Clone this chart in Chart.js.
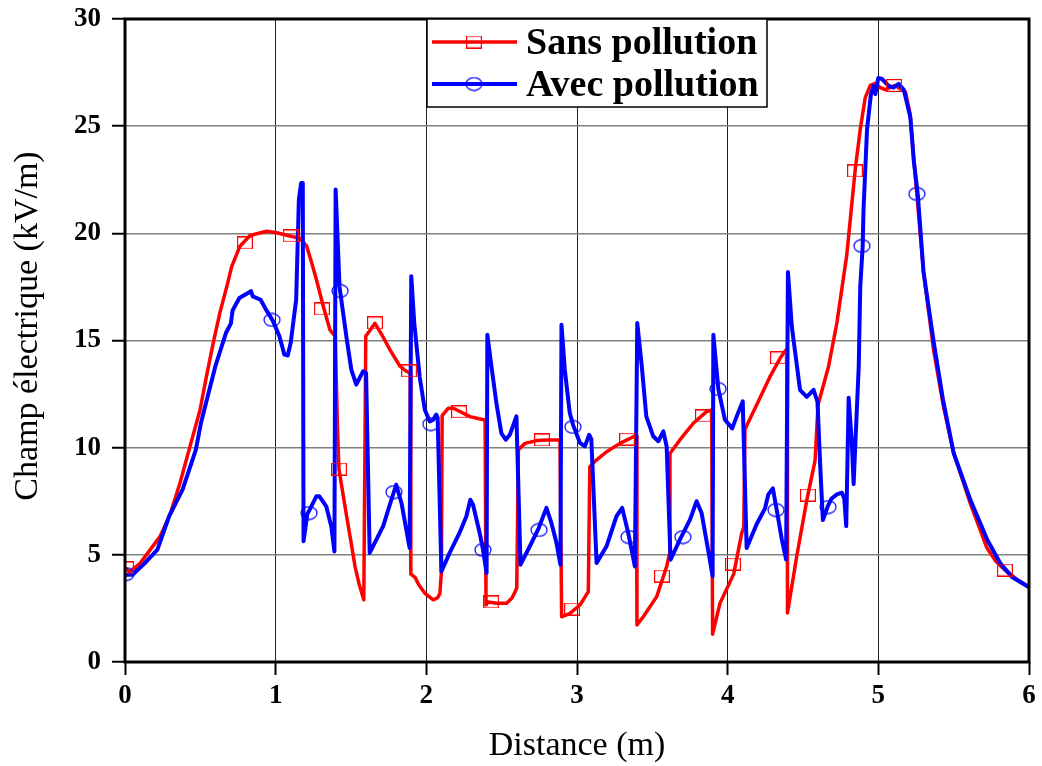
<!DOCTYPE html>
<html lang="fr">
<head>
    <meta charset="UTF-8">
    <title>Champ électrique</title>
    <script src="https://cdn.jsdelivr.net/npm/chart.js@4"></script>
    <style>
        body { margin: 0; padding: 0; background: #fff; }
        #wrap { width: 1042px; height: 766px; }
    </style>
</head>
<body>
    <div id="wrap"><canvas id="champChart" width="1042" height="766"></canvas></div>
    <script>
        // Sans pollution: distance (m) / champ (kV/m)
        const sansX = [0, 0.03, 0.1, 0.232, 0.3, 0.365, 0.431, 0.498, 0.54, 0.586, 0.63, 0.675, 0.708, 0.763, 0.83, 0.94, 1.007, 1.08, 1.16, 1.206, 1.24, 1.272, 1.316, 1.36, 1.382, 1.395, 1.41, 1.42, 1.45, 1.471, 1.5, 1.527, 1.555, 1.585, 1.598, 1.659, 1.71, 1.759, 1.825, 1.86, 1.893, 1.897, 1.925, 1.95, 1.991, 2.046, 2.075, 2.09, 2.1, 2.105, 2.146, 2.179, 2.219, 2.29, 2.35, 2.39, 2.396, 2.41, 2.467, 2.533, 2.57, 2.6, 2.611, 2.655, 2.732, 2.8, 2.887, 2.898, 2.953, 3.02, 3.075, 3.085, 3.13, 3.197, 3.285, 3.374, 3.393, 3.398, 3.44, 3.529, 3.595, 3.612, 3.617, 3.683, 3.772, 3.86, 3.894, 3.9, 3.949, 4.04, 4.093, 4.107, 4.115, 4.215, 4.28, 4.348, 4.38, 4.395, 4.397, 4.459, 4.525, 4.58, 4.6, 4.67, 4.725, 4.79, 4.847, 4.88, 4.913, 4.947, 4.98, 5.013, 5.047, 5.11, 5.18, 5.21, 5.246, 5.3, 5.368, 5.43, 5.5, 5.612, 5.72, 5.78, 5.845, 5.92, 6.0];
        const sansY = [4.4, 4.2, 4.6, 5.85, 6.9, 8.35, 10.05, 11.76, 13.3, 14.9, 16.3, 17.5, 18.45, 19.4, 19.9, 20.1, 20.03, 19.9, 19.77, 19.4, 18.6, 17.8, 16.6, 15.5, 15.3, 15.3, 11.0, 9.0, 7.7, 6.8, 5.6, 4.45, 3.6, 2.9, 15.2, 15.8, 15.2, 14.56, 13.8, 13.6, 13.47, 4.1, 3.95, 3.6, 3.2, 2.9, 3.0, 3.2, 4.2, 11.5, 11.84, 11.84, 11.7, 11.45, 11.35, 11.29, 2.66, 2.8, 2.74, 2.74, 3.0, 3.44, 9.9, 10.2, 10.33, 10.36, 10.36, 2.11, 2.27, 2.66, 3.28, 9.11, 9.43, 9.81, 10.2, 10.51, 10.55, 1.73, 2.11, 3.05, 4.45, 5.0, 9.73, 10.36, 11.14, 11.68, 11.76, 1.3, 2.74, 4.1, 6.0, 6.3, 10.86, 12.33, 13.3, 14.17, 14.5, 14.6, 2.29, 4.96, 7.54, 9.4, 12.0, 13.8, 15.83, 18.96, 23.0, 24.85, 26.33, 26.9, 27.0, 26.8, 26.7, 26.9, 26.6, 25.6, 22.6, 18.2, 14.5, 12.0, 9.75, 7.36, 5.33, 4.7, 4.26, 3.85, 3.5];

        // Avec pollution
        const avecX = [0, 0.05, 0.13, 0.215, 0.293, 0.382, 0.47, 0.504, 0.56, 0.6, 0.67, 0.703, 0.714, 0.759, 0.836, 0.848, 0.9, 0.936, 0.98, 1.025, 1.058, 1.08, 1.1, 1.136, 1.154, 1.169, 1.18, 1.185, 1.21, 1.225, 1.27, 1.29, 1.336, 1.369, 1.39, 1.398, 1.424, 1.469, 1.502, 1.535, 1.58, 1.6, 1.624, 1.713, 1.768, 1.8, 1.835, 1.889, 1.9, 1.92, 1.956, 1.99, 2.022, 2.045, 2.066, 2.075, 2.1, 2.155, 2.22, 2.266, 2.292, 2.31, 2.354, 2.376, 2.4, 2.405, 2.432, 2.465, 2.498, 2.527, 2.554, 2.598, 2.625, 2.687, 2.746, 2.797, 2.83, 2.864, 2.89, 2.897, 2.919, 2.952, 2.975, 3.02, 3.052, 3.081, 3.095, 3.13, 3.196, 3.262, 3.3, 3.34, 3.384, 3.4, 3.43, 3.46, 3.506, 3.54, 3.573, 3.595, 3.621, 3.683, 3.75, 3.794, 3.827, 3.87, 3.9, 3.905, 3.938, 3.982, 4.03, 4.06, 4.1, 4.126, 4.193, 4.248, 4.27, 4.3, 4.326, 4.36, 4.388, 4.4, 4.426, 4.46, 4.48, 4.525, 4.57, 4.596, 4.614, 4.632, 4.665, 4.69, 4.725, 4.758, 4.774, 4.787, 4.803, 4.825, 4.836, 4.847, 4.87, 4.88, 4.896, 4.902, 4.925, 4.951, 4.969, 4.98, 5.0, 5.024, 5.069, 5.1, 5.135, 5.169, 5.213, 5.235, 5.262, 5.3, 5.368, 5.43, 5.5, 5.612, 5.723, 5.81, 5.89, 6.0];
        const avecY = [4.07, 4.07, 4.6, 5.24, 6.8, 8.04, 9.9, 11.15, 12.7, 13.8, 15.35, 15.8, 16.4, 16.98, 17.3, 17.06, 16.9, 16.44, 15.94, 15.2, 14.34, 14.3, 14.9, 16.9, 21.57, 22.35, 22.35, 5.63, 6.9, 7.1, 7.73, 7.73, 7.26, 6.33, 5.16, 22.04, 17.5, 15.2, 13.64, 12.94, 13.56, 13.48, 5.09, 6.33, 7.57, 8.27, 7.42, 5.32, 18.0, 15.8, 13.3, 11.77, 11.23, 11.3, 11.54, 11.4, 4.23, 5.09, 6.02, 6.8, 7.57, 7.34, 6.02, 5.24, 4.15, 15.27, 13.8, 12.08, 10.68, 10.37, 10.6, 11.46, 4.54, 5.4, 6.25, 7.19, 6.49, 5.55, 4.54, 15.74, 13.64, 11.62, 11.04, 10.22, 10.06, 10.6, 10.4, 4.62, 5.4, 6.8, 7.19, 6.02, 4.46, 15.82, 13.8, 11.46, 10.53, 10.3, 10.76, 10.06, 4.77, 5.71, 6.64, 7.5, 6.95, 5.24, 4.0, 15.27, 12.74, 11.3, 10.9, 11.46, 12.16, 5.32, 6.44, 7.17, 7.82, 8.1, 7.08, 5.7, 4.78, 18.2, 15.64, 13.8, 12.7, 12.37, 12.7, 12.15, 9.2, 6.62, 7.27, 7.63, 7.82, 7.9, 7.63, 6.34, 12.33, 10.12, 8.3, 10.12, 13.8, 17.5, 19.38, 21.17, 24.85, 26.5, 26.88, 26.5, 27.25, 27.2, 26.88, 26.8, 26.97, 26.7, 25.4, 23.4, 21.8, 18.2, 14.9, 12.2, 9.75, 7.54, 5.7, 4.6, 3.95, 3.49];

        // marker positions along each curve
        const sansMarkX = [0.007, 0.796, 1.10, 1.307, 1.42, 1.659, 1.885, 2.217, 2.43, 2.768, 2.967, 3.332, 3.564, 3.836, 4.035, 4.334, 4.533, 4.845, 5.104, 5.84];
        const sansMarkY = [4.39, 19.55, 19.88, 16.47, 9.0, 15.82, 13.58, 11.67, 2.8, 10.36, 2.47, 10.4, 4.01, 11.48, 4.57, 14.19, 7.79, 22.91, 26.9, 4.29];
        const avecMarkX = [0.007, 0.976, 1.221, 1.427, 1.785, 2.03, 2.376, 2.748, 2.973, 3.345, 3.703, 3.936, 4.321, 4.666, 4.891, 5.256];
        const avecMarkY = [4.1, 15.96, 6.95, 17.31, 7.93, 11.1, 5.23, 6.16, 10.97, 5.83, 5.83, 12.74, 7.09, 7.23, 19.41, 21.84];

        const xTicks = [0, 1, 2, 3, 4, 5, 6];
        const yTicks = [0, 5, 10, 15, 20, 25, 30];
        const seriesNames = ['Sans pollution', 'Avec pollution'];

        const RED = '#ff0000';
        const BLUE = '#0000ff';
        const SERIF = "'Liberation Serif', 'Times New Roman', serif";

        function pts(xs, ys) {
            return xs.map((x, i) => ({ x: x, y: ys[i] }));
        }

        // hollow marker images
        function squareMarker() {
            const c = document.createElement('canvas');
            c.width = 16; c.height = 13;
            const g = c.getContext('2d');
            g.strokeStyle = RED; g.lineWidth = 1.2;
            g.strokeRect(0.6, 0.6, 14.8, 11.8);
            return c;
        }
        function circleMarker() {
            const c = document.createElement('canvas');
            c.width = 18; c.height = 15;
            const g = c.getContext('2d');
            g.strokeStyle = BLUE; g.lineWidth = 1.2;
            g.beginPath();
            g.ellipse(9, 7.5, 8, 6.4, 0, 0, Math.PI * 2);
            g.stroke();
            return c;
        }
        const sq = squareMarker();
        const ci = circleMarker();

        // frame, y title and legend box
        const decor = {
            id: 'decor',
            afterDatasetsDraw(chart) {
                const ctx = chart.ctx;
                const a = chart.chartArea;
                ctx.save();
                ctx.strokeStyle = '#000';
                ctx.lineWidth = 3;
                ctx.strokeRect(a.left, a.top, a.right - a.left, a.bottom - a.top);

                // legend
                const bx = 427, by = a.top, bw = 340, bh = 88;
                ctx.fillStyle = '#fff';
                ctx.fillRect(bx, by, bw, bh);
                ctx.lineWidth = 1.5;
                ctx.strokeRect(bx, by, bw, bh);
                const rows = [
                    { y: 42, color: RED, img: sq, w: 3.5 },
                    { y: 84, color: BLUE, img: ci, w: 4 }
                ];
                ctx.font = 'bold 38px ' + SERIF;
                ctx.textBaseline = 'alphabetic';
                ctx.textAlign = 'left';
                rows.forEach((r, i) => {
                    ctx.strokeStyle = r.color;
                    ctx.lineWidth = r.w;
                    ctx.beginPath();
                    ctx.moveTo(432, r.y);
                    ctx.lineTo(517, r.y);
                    ctx.stroke();
                    ctx.drawImage(r.img, 474 - r.img.width / 2, r.y - r.img.height / 2);
                    ctx.fillStyle = '#000';
                    ctx.fillText(seriesNames[i], 526, r.y + 12);
                });

                // y axis title
                ctx.translate(28, 326);
                ctx.rotate(-Math.PI / 2);
                ctx.font = '34px ' + SERIF;
                ctx.textAlign = 'center';
                ctx.textBaseline = 'middle';
                ctx.fillStyle = '#000';
                ctx.fillText('Champ électrique (kV/m)', 0, 0);
                ctx.restore();
            }
        };

        function noPad(s) {
            s.paddingTop = 0; s.paddingBottom = 0;
            s.paddingLeft = 0; s.paddingRight = 0;
        }

        const ctx = document.getElementById('champChart').getContext('2d');
        new Chart(ctx, {
            type: 'line',
            data: {
                datasets: [
                    {
                        label: seriesNames[0] + ' marqueurs',
                        data: pts(sansMarkX, sansMarkY),
                        showLine: false,
                        pointStyle: sq,
                        pointRadius: 8,
                        order: 0
                    },
                    {
                        label: seriesNames[1] + ' marqueurs',
                        data: pts(avecMarkX, avecMarkY),
                        showLine: false,
                        pointStyle: ci,
                        pointRadius: 8,
                        order: 0
                    },
                    {
                        label: seriesNames[1],
                        data: pts(avecX, avecY),
                        borderColor: BLUE,
                        borderWidth: 4,
                        pointRadius: 0,
                        tension: 0,
                        borderJoinStyle: 'round',
                        order: 1
                    },
                    {
                        label: seriesNames[0],
                        data: pts(sansX, sansY),
                        borderColor: RED,
                        borderWidth: 3.5,
                        pointRadius: 0,
                        tension: 0,
                        borderJoinStyle: 'round',
                        order: 2
                    }
                ]
            },
            options: {
                responsive: false,
                animation: false,
                events: [],
                layout: { padding: { left: 0, right: 13, top: 19, bottom: 0 } },
                plugins: {
                    legend: { display: false },
                    tooltip: { enabled: false },
                    title: { display: false }
                },
                scales: {
                    x: {
                        type: 'linear',
                        min: 0,
                        max: 6,
                        afterBuildTicks: (s) => { s.ticks = xTicks.map(v => ({ value: v })); },
                        afterFit: (s) => { s.height = 104; noPad(s); },
                        border: { display: false },
                        grid: { color: '#222', lineWidth: 1, tickColor: '#000', tickWidth: 2, tickLength: 13 },
                        ticks: {
                            padding: 5,
                            color: '#000',
                            font: { family: SERIF, size: 27, weight: 'bold' }
                        },
                        title: {
                            display: true,
                            text: 'Distance (m)',
                            color: '#000',
                            padding: 0,
                            font: { family: SERIF, size: 34 }
                        }
                    },
                    y: {
                        min: 0,
                        max: 30,
                        afterBuildTicks: (s) => { s.ticks = yTicks.map(v => ({ value: v })); },
                        afterFit: (s) => { s.width = 125; noPad(s); },
                        border: { display: false },
                        grid: { color: '#808080', lineWidth: 1.5, tickColor: '#000', tickWidth: 2, tickLength: 13 },
                        ticks: {
                            padding: 11,
                            color: '#000',
                            font: { family: SERIF, size: 27, weight: 'bold' }
                        }
                    }
                }
            },
            plugins: [decor]
        });
    </script>
</body>
</html>
